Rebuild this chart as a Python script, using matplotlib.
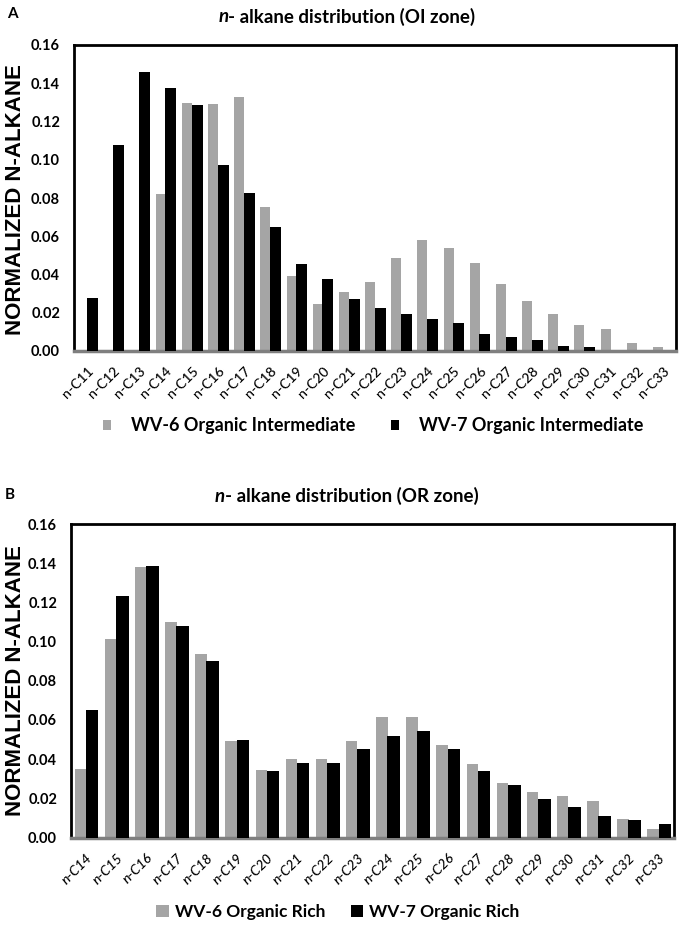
import matplotlib
matplotlib.use('Agg')
import matplotlib.pyplot as plt
from matplotlib.patches import Patch
import numpy as np

FONT = ['Lato', 'DejaVu Sans']
plt.rcParams['font.family'] = FONT

# ---------------- data ----------------
cats_a = ["n-C11", "n-C12", "n-C13", "n-C14", "n-C15", "n-C16", "n-C17", "n-C18",
          "n-C19", "n-C20", "n-C21", "n-C22", "n-C23", "n-C24", "n-C25", "n-C26",
          "n-C27", "n-C28", "n-C29", "n-C30", "n-C31", "n-C32", "n-C33"]
wv6_oi = [0.0, 0.0, 0.0, 0.082, 0.1295, 0.1292, 0.133, 0.0752,
          0.0394, 0.0245, 0.0308, 0.0359, 0.0485, 0.0579, 0.0541, 0.046,
          0.0348, 0.0262, 0.0192, 0.0138, 0.0117, 0.0044, 0.0019]
wv7_oi = [0.0275, 0.1075, 0.146, 0.1374, 0.1286, 0.0975, 0.0826, 0.0647,
          0.0453, 0.0374, 0.027, 0.0227, 0.0194, 0.0166, 0.0149, 0.0087,
          0.0072, 0.006, 0.0028, 0.0019, 0.0, 0.0, 0.0]

cats_b = ["n-C14", "n-C15", "n-C16", "n-C17", "n-C18", "n-C19", "n-C20", "n-C21",
          "n-C22", "n-C23", "n-C24", "n-C25", "n-C26", "n-C27", "n-C28", "n-C29",
          "n-C30", "n-C31", "n-C32", "n-C33"]
wv6_or = [0.0349, 0.1012, 0.138, 0.110, 0.0935, 0.0491, 0.0347, 0.0399,
          0.0399, 0.0491, 0.0613, 0.0613, 0.047, 0.0375, 0.028, 0.0233,
          0.0213, 0.0187, 0.0092, 0.0043]
wv7_or = [0.0653, 0.1234, 0.1388, 0.1079, 0.0902, 0.0496, 0.0337, 0.0382,
          0.0382, 0.0453, 0.0518, 0.0541, 0.0453, 0.0339, 0.027, 0.0199,
          0.0157, 0.0111, 0.0088, 0.0069]

yticks = [0.00, 0.02, 0.04, 0.06, 0.08, 0.10, 0.12, 0.14, 0.16]

GREY = '#a5a5a5'
BLACK = '#000000'

W, H = 680, 926
fig = plt.figure(figsize=(W / 100, H / 100), dpi=100)


def fx(px):
    return px / W


def fy(py):
    return 1 - py / H


def make_axes(left, top, right, bottom):
    return fig.add_axes([fx(left), fy(bottom), fx(right - left), (bottom - top) / H])


def style_axes(ax, cats, italic):
    x = np.arange(len(cats))
    ax.set_xlim(-0.5, len(cats) - 0.5)
    ax.set_ylim(0, 0.16)
    ax.set_yticks(yticks)
    ax.set_yticklabels([f"{v:.2f}" for v in yticks], fontsize=10.5, fontweight='bold')
    ax.set_xticks(x)
    ax.set_xticklabels(cats, rotation=45, ha='right', va='top', rotation_mode='anchor',
                       fontsize=10, fontweight='medium',
                       fontstyle='italic' if italic else 'normal')
    ax.tick_params(axis='both', length=0)
    ax.tick_params(axis='x', pad=10)
    ax.tick_params(axis='y', pad=10)
    for s in ['left', 'top', 'right']:
        ax.spines[s].set_linewidth(2)
        ax.spines[s].set_color('black')
    ax.spines['bottom'].set_linewidth(2.5)
    ax.spines['bottom'].set_color('#7f7f7f')


def draw_bars(ax, g, k):
    x = np.arange(len(g))
    ax.bar(x - 0.38, g, width=0.38, align='edge', color=GREY, edgecolor='none', zorder=2)
    ax.bar(x - 0.01, k, width=0.42, align='edge', color=BLACK, edgecolor='none', zorder=3)


def title_with_italic_n(cx, cy, rest, size=13.5):
    r = fig.canvas.get_renderer()
    t1 = fig.text(0, cy, 'n', fontsize=size, fontweight='bold', fontstyle='italic',
                  ha='left', va='center')
    t2 = fig.text(0, cy, rest, fontsize=size, fontweight='bold', ha='left', va='center')
    w1 = t1.get_window_extent(r).width / fig.bbox.width
    w2 = t2.get_window_extent(r).width / fig.bbox.width
    x0 = cx - (w1 + w2) / 2
    t1.set_x(x0)
    t2.set_x(x0 + w1)


# ---------------- panel A ----------------
axA = make_axes(74, 45, 676, 351)
draw_bars(axA, wv6_oi, wv7_oi)
style_axes(axA, cats_a, italic=False)
fig.text(fx(12), fy(14), 'A', fontsize=11, fontweight='bold', ha='center', va='center')
title_with_italic_n(fx(347), fy(17), '- alkane distribution (OI zone)')
fig.text(fx(16), fy(200), 'NORMALIZED N-ALKANE', rotation=90, fontsize=16,
         fontweight='bold', family=['Liberation Sans', 'DejaVu Sans'],
         ha='center', va='center')
fig.legend(handles=[Patch(facecolor=GREY, label='WV-6 Organic Intermediate'),
                    Patch(facecolor=BLACK, label='WV-7 Organic Intermediate')],
           loc='center', bbox_to_anchor=(fx(373), fy(426)), ncol=2, frameon=False,
           prop={'size': 13, 'weight': 'bold'}, handlelength=0.45, handleheight=0.45,
           handletextpad=1.1, columnspacing=2.0)

# ---------------- panel B ----------------
axB = make_axes(71, 524, 674, 837.5)
draw_bars(axB, wv6_or, wv7_or)
style_axes(axB, cats_b, italic=True)
fig.text(fx(10), fy(495), 'B', fontsize=11, fontweight='bold', ha='center', va='center')
title_with_italic_n(fx(347), fy(496), '- alkane distribution (OR zone)')
fig.text(fx(16), fy(681), 'NORMALIZED N-ALKANE', rotation=90, fontsize=16,
         fontweight='bold', family=['Liberation Sans', 'DejaVu Sans'],
         ha='center', va='center')
fig.legend(handles=[Patch(facecolor=GREY, label='WV-6 Organic Rich'),
                    Patch(facecolor=BLACK, label='WV-7 Organic Rich')],
           loc='center', bbox_to_anchor=(fx(338), fy(912)), ncol=2, frameon=False,
           prop={'size': 12.5, 'weight': 'bold'}, handlelength=0.7, handleheight=0.7,
           handletextpad=0.35, columnspacing=1.5)

fig.savefig('out.png', dpi=100)
